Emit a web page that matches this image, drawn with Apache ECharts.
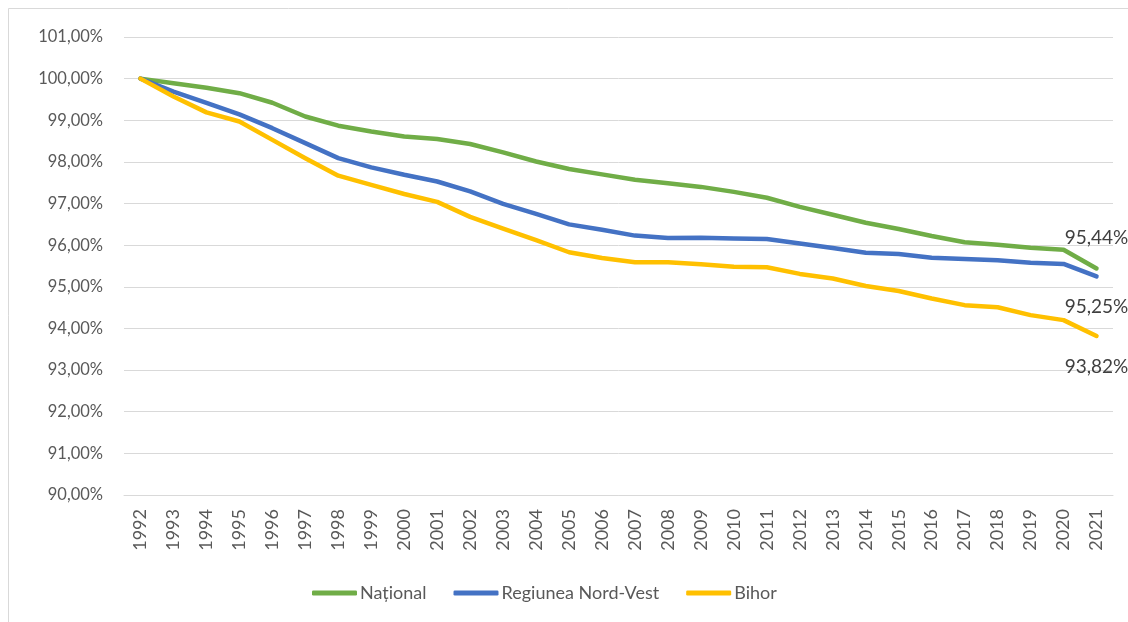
<!DOCTYPE html>
<html>
<head>
<meta charset="utf-8">
<script src="https://cdn.jsdelivr.net/npm/echarts@6/dist/echarts.min.js"></script>
<style>
  html, body { margin: 0; padding: 0; background: #fff; }
  #chart { width: 1128px; height: 622px; }
</style>
</head>
<body>
<div id="chart"></div>
<script>
// years on the x axis
var years = [];
for (var y = 1992; y <= 2021; y++) years.push(String(y));

// values (% of 1992 population)
var national = [100.00, 99.89, 99.78, 99.65, 99.42, 99.09, 98.87, 98.73, 98.61, 98.55,
  98.43, 98.23, 98.01, 97.83, 97.70, 97.57, 97.49, 97.40, 97.28, 97.14,
  96.92, 96.73, 96.54, 96.39, 96.22, 96.07, 96.01, 95.94, 95.89, 95.44];
var nordVest = [100.00, 99.69, 99.42, 99.14, 98.81, 98.45, 98.09, 97.87, 97.69, 97.53,
  97.29, 96.99, 96.75, 96.50, 96.37, 96.23, 96.17, 96.18, 96.16, 96.15,
  96.04, 95.93, 95.82, 95.79, 95.70, 95.67, 95.64, 95.58, 95.55, 95.25];
var bihor = [100.00, 99.57, 99.19, 98.97, 98.53, 98.09, 97.67, 97.45, 97.23, 97.04,
  96.68, 96.40, 96.12, 95.83, 95.69, 95.59, 95.59, 95.54, 95.48, 95.47,
  95.31, 95.20, 95.02, 94.90, 94.72, 94.56, 94.51, 94.32, 94.20, 93.82];

var seriesNames = ["Național", "Regiunea Nord-Vest", "Bihor"];
var colors = ["#70AD47", "#4472C4", "#FFC000"];

function fmt(v) {
  return v.toFixed(2).replace(".", ",") + "%";
}

// only the last point gets a label
function withEndLabel(arr, pos) {
  return arr.map(function (v, i) {
    if (i !== arr.length - 1) return v;
    return {
      value: v,
      label: {
        show: true,
        position: pos,
        distance: 21,
        formatter: function (p) { return fmt(p.value); },
        color: "#404040",
        fontSize: 19,
        fontFamily: "Lato"
      }
    };
  });
}

var myChart = echarts.init(document.getElementById("chart"));

function makeSeries(name, data, color, pos) {
  return {
    name: name,
    type: "line",
    data: withEndLabel(data, pos),
    symbol: "circle",
    symbolSize: 0,
    showSymbol: true,
    itemStyle: { color: color },
    lineStyle: { color: color, width: 4.5, cap: "round", join: "round" },
    emphasis: { disabled: true },
    animation: false
  };
}

var option = {
  backgroundColor: "#fff",
  textStyle: { fontFamily: "Lato" },
  graphic: [{
    type: "rect",
    shape: { x: 8.5, y: 8.5, width: 1300, height: 800 },
    style: { fill: "none", stroke: "#D9D9D9", lineWidth: 1 },
    silent: true
  }],
  grid: { left: 124, right: 15, top: 37, bottom: 127, containLabel: false },
  legend: {
    data: seriesNames,
    bottom: 15,
    left: 307,
    icon: "roundRect",
    itemWidth: 45,
    itemHeight: 5,
    itemGap: 27,
    textStyle: { color: "#595959", fontSize: 18, fontFamily: "Lato", padding: [0, 0, 0, -2] }
  },
  xAxis: {
    type: "category",
    data: years,
    boundaryGap: true,
    axisLine: { lineStyle: { color: "#D9D9D9" } },
    axisTick: { show: false },
    axisLabel: { rotate: 90, interval: 0, color: "#595959", fontSize: 18, margin: 14, fontFamily: "Lato" }
  },
  yAxis: {
    type: "value",
    min: 90,
    max: 101,
    interval: 1,
    axisLine: { show: false },
    axisTick: { show: false },
    splitLine: { lineStyle: { color: "#D9D9D9", width: 1 } },
    axisLabel: {
      color: "#595959",
      fontSize: 16.5,
      margin: 21,
      fontFamily: "Lato",
      formatter: function (v) { return fmt(v); }
    }
  },
  series: [
    makeSeries(seriesNames[0], national, colors[0], "top"),
    makeSeries(seriesNames[1], nordVest, colors[1], "bottom"),
    makeSeries(seriesNames[2], bihor, colors[2], "bottom")
  ]
};

myChart.setOption(option);
</script>
</body>
</html>
